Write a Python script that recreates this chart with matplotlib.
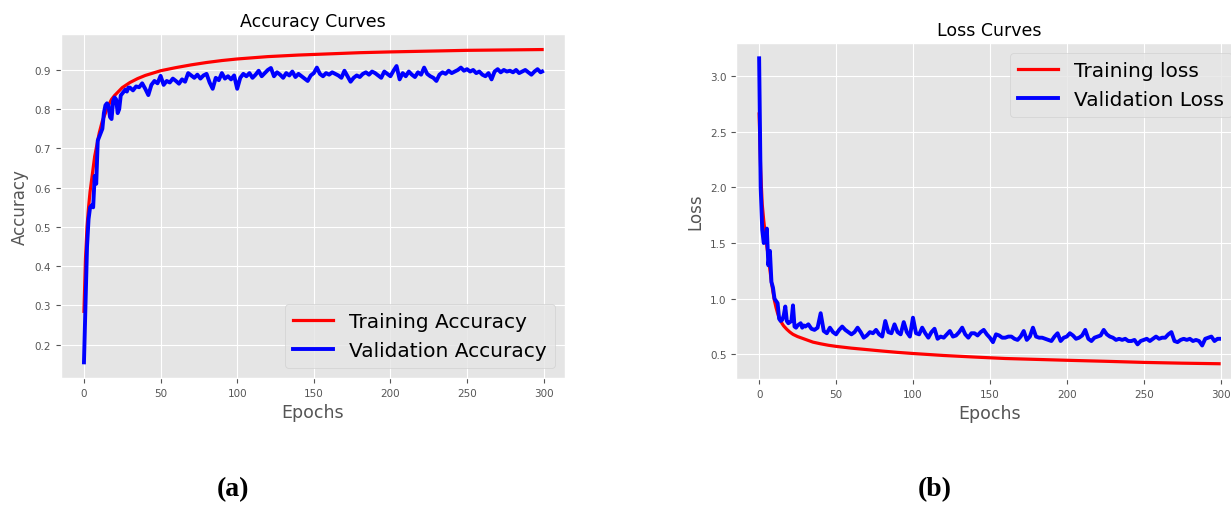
import numpy as np
import matplotlib
matplotlib.use("Agg")
import matplotlib.pyplot as plt

plt.style.use("ggplot")

# ---- accuracy (a) ----
tr_acc_ep = [0, 1, 2, 3, 4, 5, 6, 7, 8, 9, 10, 12, 14, 16, 18, 20, 25, 30, 35, 40, 45, 50,
             60, 70, 80, 90, 100, 120, 140, 160, 180, 200, 225, 250, 275, 299]
tr_acc = [0.285, 0.42, 0.50, 0.55, 0.59, 0.62, 0.65, 0.68, 0.70, 0.72, 0.74, 0.77, 0.79, 0.81,
          0.825, 0.835, 0.855, 0.868, 0.878, 0.886, 0.892, 0.898, 0.906, 0.913, 0.919, 0.924,
          0.928, 0.934, 0.938, 0.941, 0.944, 0.946, 0.948, 0.950, 0.951, 0.952]

va_acc_ep = list(range(0, 30)) + list(range(30, 299, 2)) + [299]
va_acc = [0.155, 0.30, 0.45, 0.52, 0.55, 0.555, 0.55, 0.63, 0.61, 0.72, 0.73, 0.74, 0.75, 0.79,
          0.81, 0.815, 0.81, 0.78, 0.775, 0.82, 0.83, 0.825, 0.79, 0.80, 0.835, 0.84, 0.845,
          0.85, 0.845, 0.855,
          0.855, 0.848, 0.858, 0.856, 0.866, 0.852, 0.836, 0.862, 0.872, 0.866,
          0.885, 0.862, 0.872, 0.868, 0.878, 0.872, 0.865, 0.876, 0.870, 0.892,
          0.886, 0.880, 0.888, 0.878, 0.886, 0.890, 0.868, 0.852, 0.880, 0.874,
          0.892, 0.878, 0.884, 0.876, 0.886, 0.852, 0.880, 0.890, 0.884, 0.892,
          0.880, 0.888, 0.898, 0.884, 0.892, 0.900, 0.905, 0.884, 0.894, 0.888,
          0.880, 0.892, 0.886, 0.896, 0.882, 0.890, 0.884, 0.878, 0.872, 0.886,
          0.892, 0.906, 0.890, 0.884, 0.892, 0.888, 0.894, 0.890, 0.886, 0.880,
          0.898, 0.884, 0.870, 0.880, 0.886, 0.882, 0.890, 0.894, 0.888, 0.896,
          0.892, 0.886, 0.880, 0.896, 0.890, 0.884, 0.898, 0.910, 0.876, 0.892,
          0.884, 0.896, 0.888, 0.882, 0.894, 0.888, 0.906, 0.890, 0.884, 0.880,
          0.872, 0.888, 0.894, 0.890, 0.898, 0.892, 0.896, 0.900, 0.906, 0.898,
          0.902, 0.896, 0.900, 0.892, 0.896, 0.888, 0.884, 0.892, 0.876, 0.896,
          0.902, 0.894, 0.900, 0.896, 0.898, 0.894, 0.900, 0.892, 0.896, 0.900,
          0.894, 0.888, 0.896, 0.902, 0.894, 0.896]

# ---- loss (b) ----
tr_loss_ep = [0, 1, 2, 3, 4, 5, 6, 7, 8, 9, 10, 11, 12, 13, 14, 15, 16, 17, 18, 20, 22, 25,
              30, 35, 40, 45, 50, 60, 70, 80, 90, 100, 120, 140, 160, 180, 200, 225, 250, 275, 299]
tr_loss = [2.66, 2.15, 1.85, 1.70, 1.58, 1.47, 1.38, 1.26, 1.15, 1.06, 0.98, 0.92, 0.87, 0.83,
           0.80, 0.775, 0.755, 0.74, 0.725, 0.70, 0.68, 0.66, 0.635, 0.61, 0.595, 0.582, 0.572,
           0.556, 0.543, 0.530, 0.518, 0.508, 0.490, 0.476, 0.463, 0.455, 0.447, 0.438, 0.428,
           0.421, 0.416]

va_loss_ep = list(range(0, 30)) + list(range(30, 299, 2)) + [299]
va_loss = [3.16, 2.00, 1.62, 1.50, 1.52, 1.63, 1.30, 1.43, 1.15, 1.10, 1.00, 0.98, 0.96, 0.82,
           0.80, 0.81, 0.85, 0.93, 0.80, 0.78, 0.79, 0.80, 0.94, 0.75, 0.74, 0.76, 0.77, 0.78,
           0.74, 0.76,
           0.75, 0.77, 0.73, 0.72, 0.74, 0.87, 0.71, 0.69, 0.74, 0.70,
           0.68, 0.72, 0.75, 0.72, 0.70, 0.68, 0.70, 0.74, 0.70, 0.65,
           0.67, 0.70, 0.69, 0.72, 0.68, 0.66, 0.80, 0.70, 0.69, 0.77,
           0.70, 0.68, 0.79, 0.70, 0.66, 0.83, 0.69, 0.68, 0.74, 0.69,
           0.65, 0.70, 0.73, 0.64, 0.66, 0.65, 0.68, 0.71, 0.66, 0.67,
           0.70, 0.74, 0.68, 0.65, 0.69, 0.69, 0.67, 0.70, 0.72, 0.68,
           0.65, 0.61, 0.68, 0.67, 0.65, 0.65, 0.66, 0.66, 0.64, 0.63,
           0.66, 0.71, 0.63, 0.66, 0.74, 0.66, 0.65, 0.65, 0.64, 0.63,
           0.62, 0.66, 0.69, 0.62, 0.65, 0.66, 0.69, 0.67, 0.64, 0.65,
           0.67, 0.72, 0.64, 0.62, 0.65, 0.66, 0.67, 0.72, 0.68, 0.66,
           0.65, 0.63, 0.64, 0.63, 0.64, 0.62, 0.62, 0.63, 0.59, 0.62,
           0.63, 0.64, 0.62, 0.64, 0.66, 0.64, 0.65, 0.65, 0.68, 0.70,
           0.62, 0.61, 0.63, 0.64, 0.63, 0.64, 0.62, 0.63, 0.62, 0.58,
           0.64, 0.65, 0.66, 0.62, 0.64, 0.64]

fig = plt.figure(figsize=(12.31, 5.06), dpi=100)
ax1 = fig.add_axes([0.0496, 0.251, 0.4094, 0.680])
# right panel runs slightly past the figure edge, as in the cropped original
ax2 = fig.add_axes([0.598, 0.249, 0.411, 0.664])

ax1.plot(tr_acc_ep, tr_acc, color="red", lw=2.3, label="Training Accuracy")
ax1.plot(va_acc_ep, va_acc, color="blue", lw=2.8, label="Validation Accuracy")
ax1.set_title("Accuracy Curves", fontsize=12.5)
ax1.set_xlabel("Epochs", fontsize=12.5)
ax1.set_ylabel("Accuracy", fontsize=12)
ax1.set_xticks([0, 50, 100, 150, 200, 250, 300])
ax1.legend(loc="lower right", fontsize=14.5)

ax2.plot(tr_loss_ep, tr_loss, color="red", lw=2.3, label="Training loss")
ax2.plot(va_loss_ep, va_loss, color="blue", lw=2.8, label="Validation Loss")
ax2.set_title("Loss Curves", fontsize=12.5)
ax2.set_xlabel("Epochs", fontsize=12.5)
ax2.set_ylabel("Loss", fontsize=12)
ax2.set_xticks([0, 50, 100, 150, 200, 250, 300])
ax2.legend(loc="upper right", fontsize=14.5)

for ax in (ax1, ax2):
    ax.tick_params(labelsize=7.5)

fig.text(0.189, 0.032, "(a)", ha="center", va="center", fontsize=20,
         fontweight="bold", family="Liberation Serif")
fig.text(0.7595, 0.032, "(b)", ha="center", va="center", fontsize=20,
         fontweight="bold", family="Liberation Serif")

fig.savefig("out.png", dpi=100, facecolor="white")
